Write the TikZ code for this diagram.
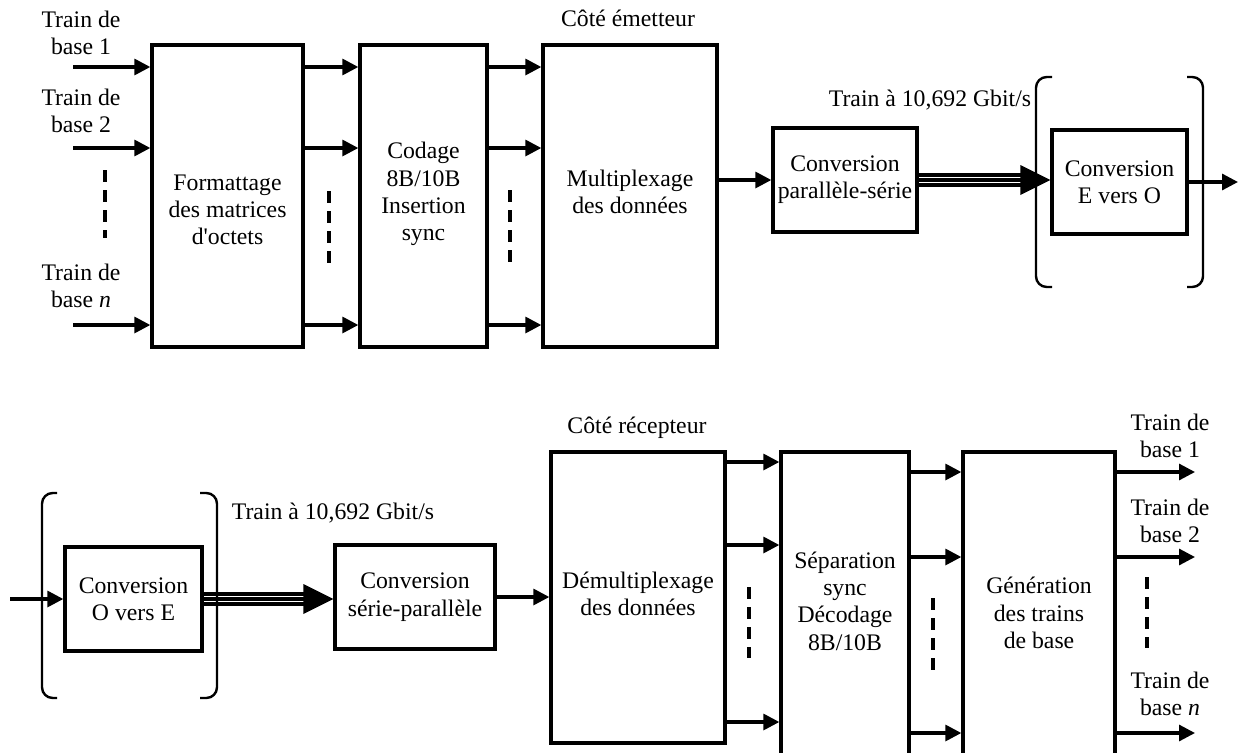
\documentclass[tikz,border=0pt]{standalone}
\usepackage{fontspec}
\setmainfont{Liberation Serif}
\usetikzlibrary{arrows.meta}
\begin{document}
\begin{tikzpicture}[x=0.75pt,y=-0.75pt,
  font=\fontsize{17.8}{20.5}\selectfont,
  blk/.style={draw, line width=2.5pt, inner sep=0pt, align=center},
  txt/.style={align=center, inner sep=0pt},
  arr/.style={line width=2.4pt, -{Triangle[length=12pt,width=12pt]}},
  dsh/.style={line width=3.2pt, dash pattern=on 9pt off 6pt},
  brk/.style={line width=1.8pt, rounded corners=8pt},
  tl/.style={line width=2.7pt}]
\useasboundingbox (0,0) rectangle (1239,753);

% ---------- top: transmitter ----------
\node[blk, minimum width=151*0.75pt, minimum height=302*0.75pt] (F) at (227.5,196) {};
\node[blk, minimum width=127*0.75pt, minimum height=302*0.75pt] (C) at (423.5,196) {};
\node[blk, minimum width=174*0.75pt, minimum height=302*0.75pt] (M) at (630,196) {};
\node[blk, minimum width=144*0.75pt, minimum height=104*0.75pt] (P) at (845,180) {Conversion\\parallèle-série};
\node[blk, minimum width=135*0.75pt, minimum height=104*0.75pt] (EO) at (1119.5,182) {Conversion\\E vers O};

\node[txt] (Ft) at (227.5,210) {Formattage\\des matrices\\d\textquotesingle octets};
\node[txt] (Ct) at (423.5,194) {Codage\\8B/10B\\Insertion\\sync};
\node[txt] (Mt) at (630,192) {Multiplexage\\des données};

\node[txt] (l1) at (81,33) {Train de\\base 1};
\node[txt] (l2) at (81,111) {Train de\\base 2};
\node[txt] (ln) at (81,286) {Train de\\base \textit{n}};
\node[txt] (te) at (628,18) {Côté émetteur};
\node[txt] (r1) at (930,100) {Train à 10,692 Gbit/s};

\coordinate (ya) at (0,67);
\coordinate (yb) at (0,148);
\coordinate (yc) at (0,325);
\coordinate (i1) at (73,67);
\coordinate (i2) at (73,148);
\coordinate (i3) at (73,325);
\draw[arr] (i1) -- (F.west |- ya);
\draw[arr] (i2) -- (F.west |- yb);
\draw[arr] (i3) -- (F.west |- yc);
\draw[arr] (F.east |- ya) -- (C.west |- ya);
\draw[arr] (F.east |- yb) -- (C.west |- yb);
\draw[arr] (F.east |- yc) -- (C.west |- yc);
\draw[arr] (C.east |- ya) -- (M.west |- ya);
\draw[arr] (C.east |- yb) -- (M.west |- yb);
\draw[arr] (C.east |- yc) -- (M.west |- yc);
\draw[arr] (M.east |- P.west) -- (P.west);

\draw[dsh] (105,170) -- (105,238);
\draw[dsh] (329,191) -- (329,264);
\draw[dsh] (510,190) -- (510,263);

% triple arrow P -> EO
\coordinate (tipA) at (EO.west |- P.east);
\draw[tl] ([yshift=3.9pt]P.east) -- ([yshift=3.9pt,xshift=-18pt]tipA);
\draw[tl] (P.east) -- ([xshift=-18pt]tipA);
\draw[tl] ([yshift=-3.9pt]P.east) -- ([yshift=-3.9pt,xshift=-18pt]tipA);
\fill (tipA) -- ++(-30,-15) -- ++(0,30) -- cycle;

\coordinate (outA) at (1238,182);
\draw[arr] (EO.east) -- (outA);

\draw[brk] (1052,77) -- (1036,77) -- (1036,287) -- (1052,287);
\draw[brk] (1187,77) -- (1203,77) -- (1203,287) -- (1187,287);

% ---------- bottom: receiver ----------
\node[blk, minimum width=137*0.75pt, minimum height=104*0.75pt] (OE) at (133.5,599) {Conversion\\O vers E};
\node[blk, minimum width=160*0.75pt, minimum height=104*0.75pt] (SP) at (415,597) {Conversion\\série-parallèle};
\node[blk, minimum width=174*0.75pt, minimum height=291*0.75pt] (D) at (638,597.5) {};
\node[blk, minimum width=128*0.75pt, minimum height=305*0.75pt] (S) at (845,604.5) {};
\node[blk, minimum width=152*0.75pt, minimum height=305*0.75pt] (G) at (1039,604.5) {};

\node[txt] (Dt) at (638,594) {Démultiplexage\\des données};
\node[txt] (St) at (845,601) {Séparation\\sync\\Décodage\\8B/10B};
\node[txt] (Gt) at (1039,613) {Génération\\des trains\\de base};

\node[txt] (tr) at (637,428) {Côté récepteur};
\node[txt] (r2) at (333,513) {Train à 10,692 Gbit/s};
\node[txt] (o1) at (1170,436) {Train de\\base 1};
\node[txt] (o2) at (1170,521) {Train de\\base 2};
\node[txt] (on) at (1170,694) {Train de\\base \textit{n}};

\coordinate (inB) at (10,599);
\draw[arr] (inB) -- (OE.west);

\coordinate (tipB) at (SP.west |- OE.east);
\draw[tl] ([yshift=3.9pt]OE.east) -- ([yshift=3.9pt,xshift=-18pt]tipB);
\draw[tl] (OE.east) -- ([xshift=-18pt]tipB);
\draw[tl] ([yshift=-3.9pt]OE.east) -- ([yshift=-3.9pt,xshift=-18pt]tipB);
\fill (tipB) -- ++(-30,-15) -- ++(0,30) -- cycle;

\draw[arr] (SP.east) -- (D.west |- SP.east);

\coordinate (yd) at (0,462);
\coordinate (ye) at (0,545);
\coordinate (yf) at (0,722);
\draw[arr] (D.east |- yd) -- (S.west |- yd);
\draw[arr] (D.east |- ye) -- (S.west |- ye);
\draw[arr] (D.east |- yf) -- (S.west |- yf);

\coordinate (yg) at (0,472);
\coordinate (yh) at (0,557);
\coordinate (yi) at (0,733);
\draw[arr] (S.east |- yg) -- (G.west |- yg);
\draw[arr] (S.east |- yh) -- (G.west |- yh);
\draw[arr] (S.east |- yi) -- (G.west |- yi);
\coordinate (g1) at (1195,472);
\coordinate (g2) at (1195,557);
\coordinate (g3) at (1195,733);
\draw[arr] (G.east |- yg) -- (g1);
\draw[arr] (G.east |- yh) -- (g2);
\draw[arr] (G.east |- yi) -- (g3);

\draw[dsh] (749,587) -- (749,658);
\draw[dsh] (933,598) -- (933,670);
\draw[dsh] (1147,577) -- (1147,648);

\draw[brk] (57,493) -- (42,493) -- (42,698) -- (57,698);
\draw[brk] (200,493) -- (217,493) -- (217,698) -- (200,698);
\end{tikzpicture}
\end{document}
